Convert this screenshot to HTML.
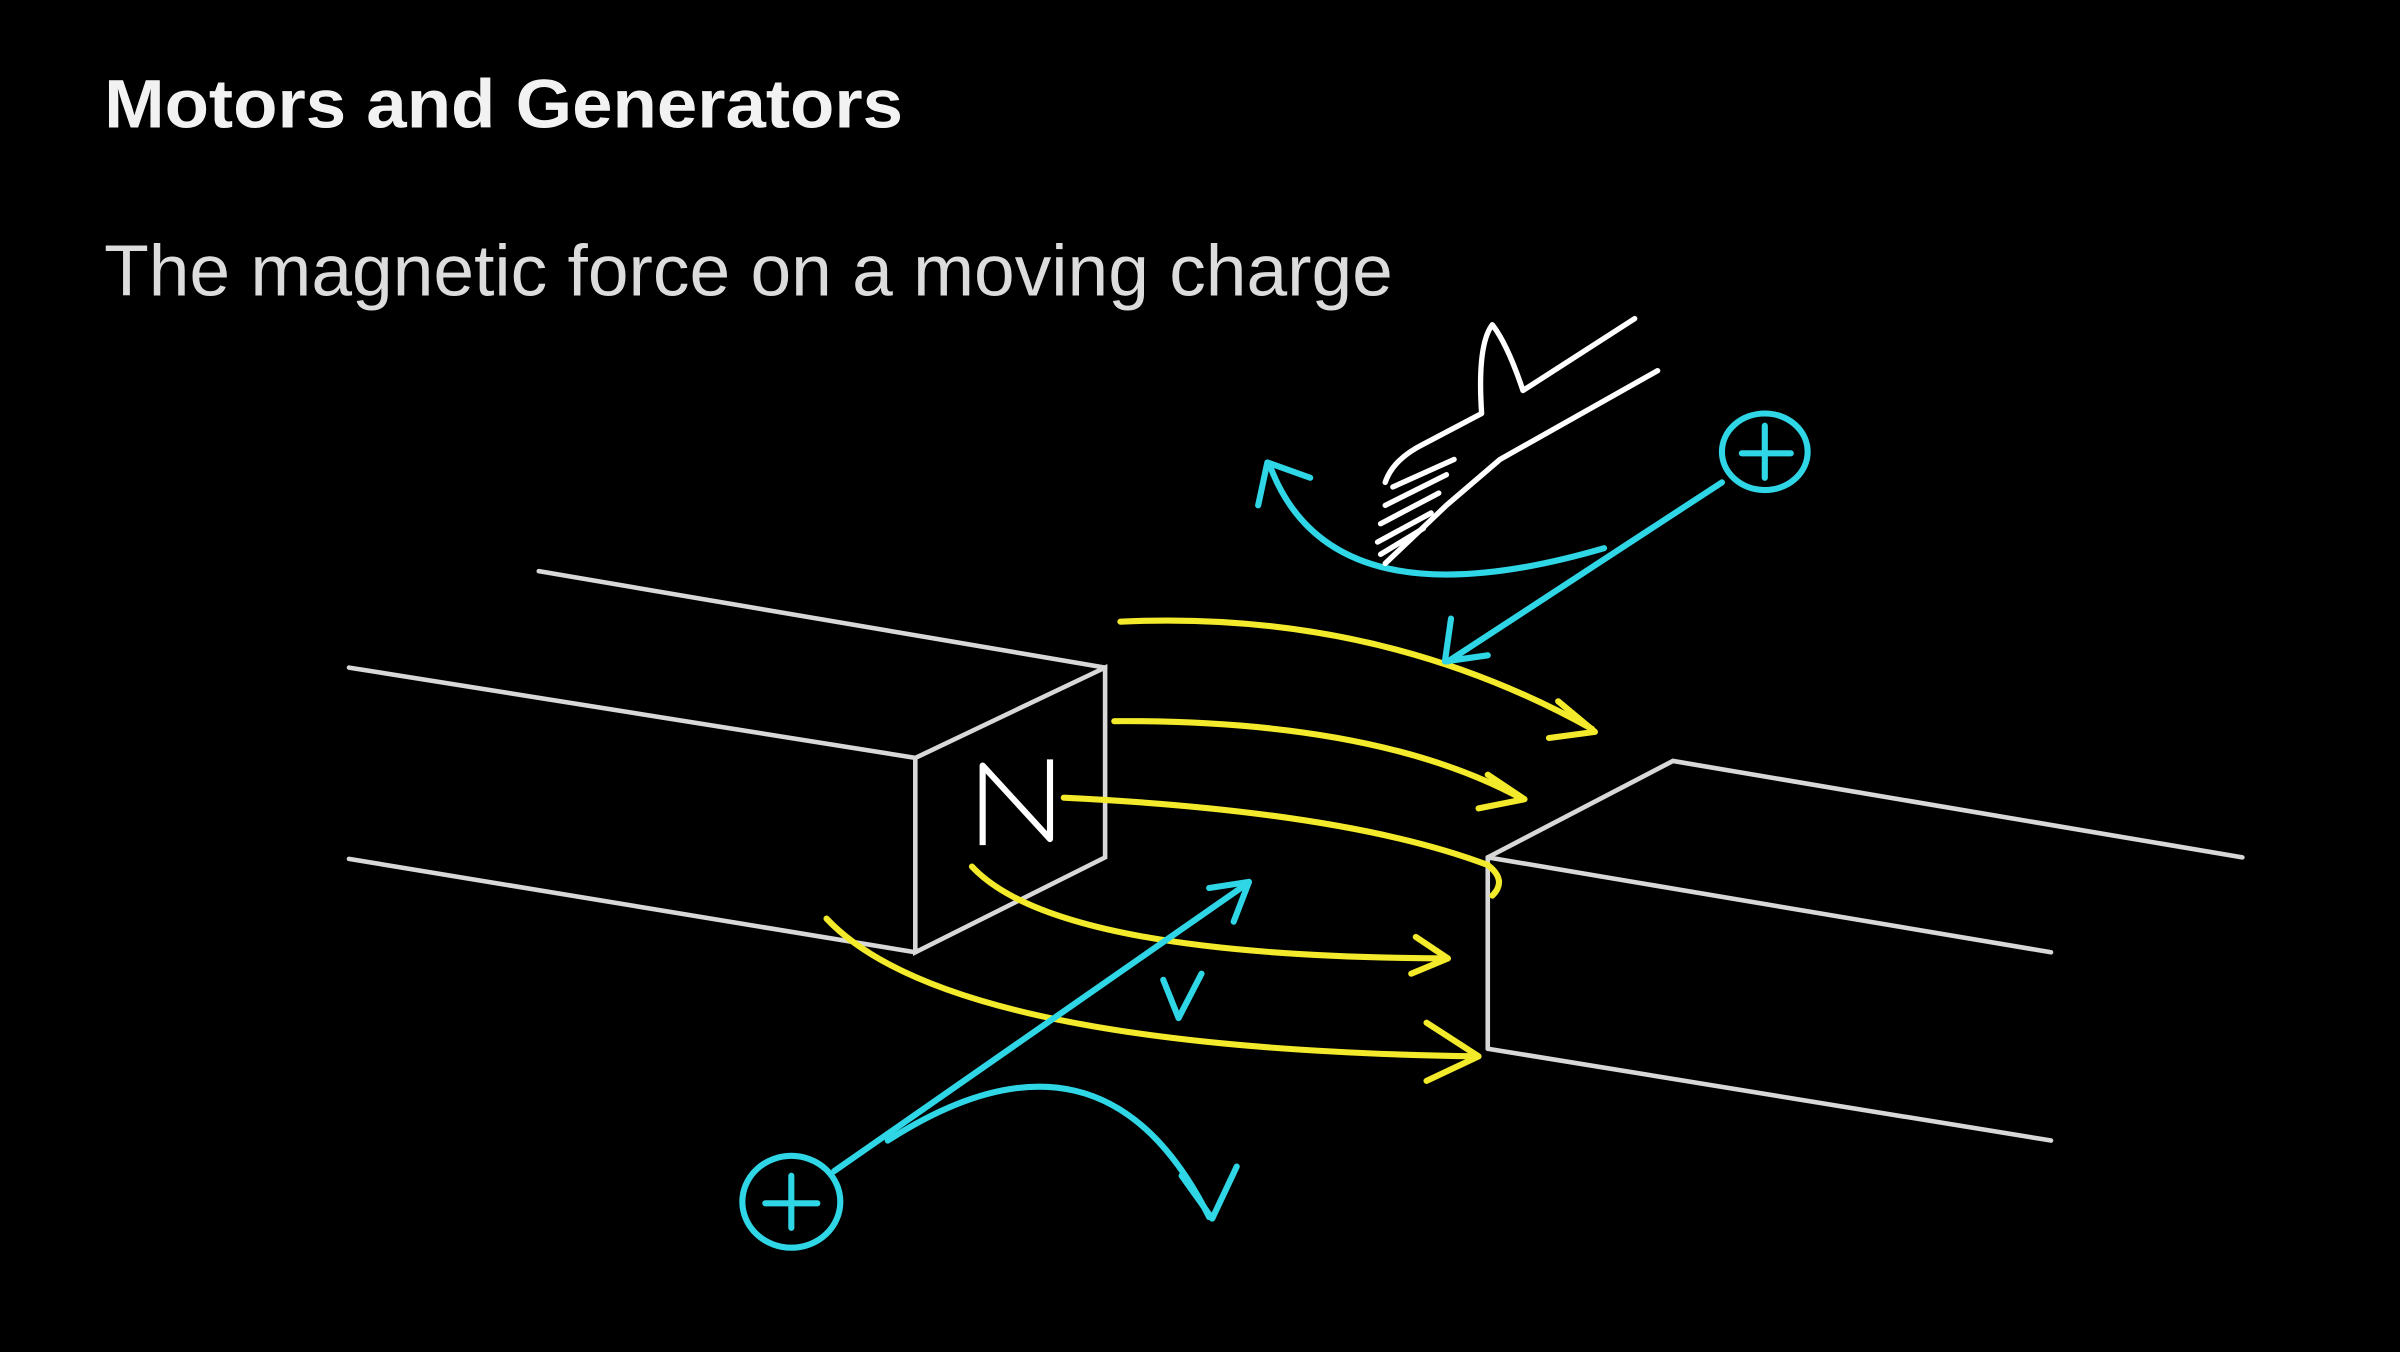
<!DOCTYPE html>
<html><head><meta charset="utf-8"><style>
html,body{margin:0;padding:0;background:#000;}
svg{display:block;}
</style></head><body>
<svg width="2400" height="1352" viewBox="0 0 1568 883" xmlns="http://www.w3.org/2000/svg">
<rect width="1568" height="883" fill="#000"/>
<text x="68" y="83" font-family="Liberation Sans, Arial, sans-serif" font-weight="bold" font-size="45" fill="#f2f2f2" textLength="522" lengthAdjust="spacingAndGlyphs">Motors and Generators</text>
<text x="68" y="193" font-family="Liberation Sans, Arial, sans-serif" font-size="47" fill="#dcdcdc" textLength="842" lengthAdjust="spacingAndGlyphs">The magnetic force on a moving charge</text>
<g stroke="#d8d8d8" stroke-width="3" fill="none" stroke-linecap="round">
<line x1="352" y1="373" x2="722" y2="436"/>
<line x1="228" y1="436" x2="598" y2="495"/>
<line x1="228" y1="561" x2="598" y2="622"/>
<polygon points="598,495 722,436 722,560 598,622"/>
<polyline points="972,560 1093,497 1465,560"/>
<line x1="972" y1="560" x2="972" y2="685"/>
<line x1="972" y1="560" x2="1340" y2="622"/>
<line x1="972" y1="685" x2="1340" y2="745"/>
</g>
<path d="M642 552 L642 500 L686 548 L686 496" stroke="#fff" stroke-width="4" fill="none" stroke-linejoin="round"/>
<g stroke="#f2ea2a" stroke-width="4" fill="none" stroke-linecap="round" stroke-linejoin="round">
<path d="M732 406 Q900 398 1040 476"/><path d="M1018 458 L1042 478 L1012 482"/>
<path d="M728 471 Q900 470 995 522"/><path d="M972 506 L996 522 L966 528"/>
<path d="M695 521 Q880 530 972 565 Q985 575 975 585"/>
<path d="M635 566 Q690 625 945 626"/><path d="M925 612 L946 626 L922 636"/>
<path d="M540 600 Q620 685 965 690"/><path d="M932 668 L966 690 L932 706"/>
</g>
<g stroke="#2fd6e6" stroke-width="4" fill="none" stroke-linecap="round" stroke-linejoin="round">
<ellipse cx="517" cy="785" rx="32" ry="30"/>
<path d="M517 768 L517 802 M500 786 L534 786"/>
<path d="M545 765 L815 577"/><path d="M790 580 L816 576 L806 602"/>
<path d="M580 745 Q720 655 790 795"/><path d="M772 768 L792 796 L808 762"/>
<path d="M760 640 L770 665 L785 636"/>
<ellipse cx="1153" cy="295" rx="28" ry="25"/>
<path d="M1153 278 L1153 312 M1138 296 L1170 296"/>
<path d="M1125 315 L946 432"/><path d="M948 404 L944 432 L972 428"/>
<path d="M830 305 Q870 410 1048 358"/><path d="M822 330 L828 302 L856 312"/>
</g>
<g stroke="#fff" stroke-width="3.5" fill="none" stroke-linecap="round" stroke-linejoin="round">
<path d="M1068 208 L995 255 Q985 225 975 212 Q965 225 968 270 L930 290 Q910 300 905 315"/>
<path d="M1083 242 L980 300 L945 330 L905 368"/>
<path d="M910 318 L950 300 M905 330 L945 310 M902 342 L940 322 M900 354 L935 335 M902 362 L930 345"/>
</g>
</svg>
</body></html>
